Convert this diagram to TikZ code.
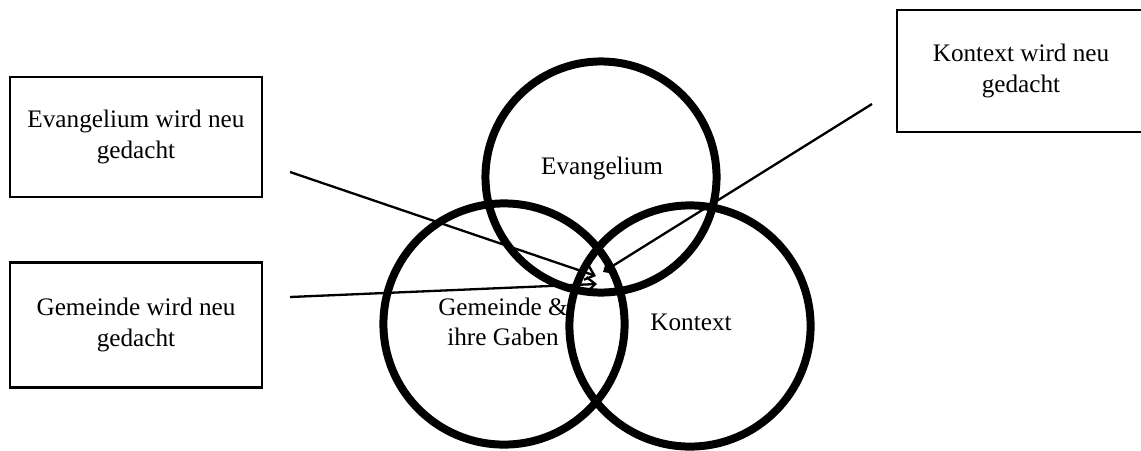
\documentclass[tikz,border=0pt]{standalone}
\usepackage{fontspec}
\setmainfont{Liberation Serif}
\usetikzlibrary{arrows.meta}
\tikzset{
  ring/.style={draw, circle, line width=3.8pt, minimum size=#1, inner sep=0pt},
  thinkbox/.style={draw, rectangle, line width=1.3pt, minimum width=120pt, minimum height=58pt, align=center},
  pointer/.style={-{Straight Barb[length=4pt,width=7pt]}, line width=1.1pt},
}
\begin{document}
\begin{tikzpicture}[x=0.476pt,y=-0.476pt, font=\fontsize{12}{14.5}\selectfont]
\useasboundingbox (0,0) rectangle (1141,450);
% three circles
\node[ring=110pt] (ev) at (601,177) {};
\node[ring=114.8pt] (ge) at (504,324) {};
\node[ring=114.8pt] (ko) at (690,326) {};
\node (evtxt) at (602,168) {Evangelium};
\node[align=center] (getxt) at (503,322) {Gemeinde \&\\ihre Gaben};
\node (kotxt) at (691,322) {Kontext};
% boxes
\node[thinkbox, minimum height=57pt] (evbox) at (136,137) {Evangelium wird neu\\gedacht};
\node[thinkbox, minimum height=59.5pt] (gebox) at (136,325) {Gemeinde wird neu\\gedacht};
\node[thinkbox, minimum width=118pt] (kobox) at (1021,71) {Kontext wird neu\\gedacht};
% arrows
\coordinate (evstart) at (290,172);
\coordinate (gestart) at (290,297);
\coordinate (kostart) at (872,104);
\coordinate (evtip) at (596,276);
\coordinate (getip) at (597,284);
\coordinate (kotip) at (603,272);
\draw[pointer] (evstart) -- (evtip);
\draw[pointer] (gestart) -- (getip);
\draw[pointer] (kostart) -- (kotip);
\end{tikzpicture}
\end{document}
